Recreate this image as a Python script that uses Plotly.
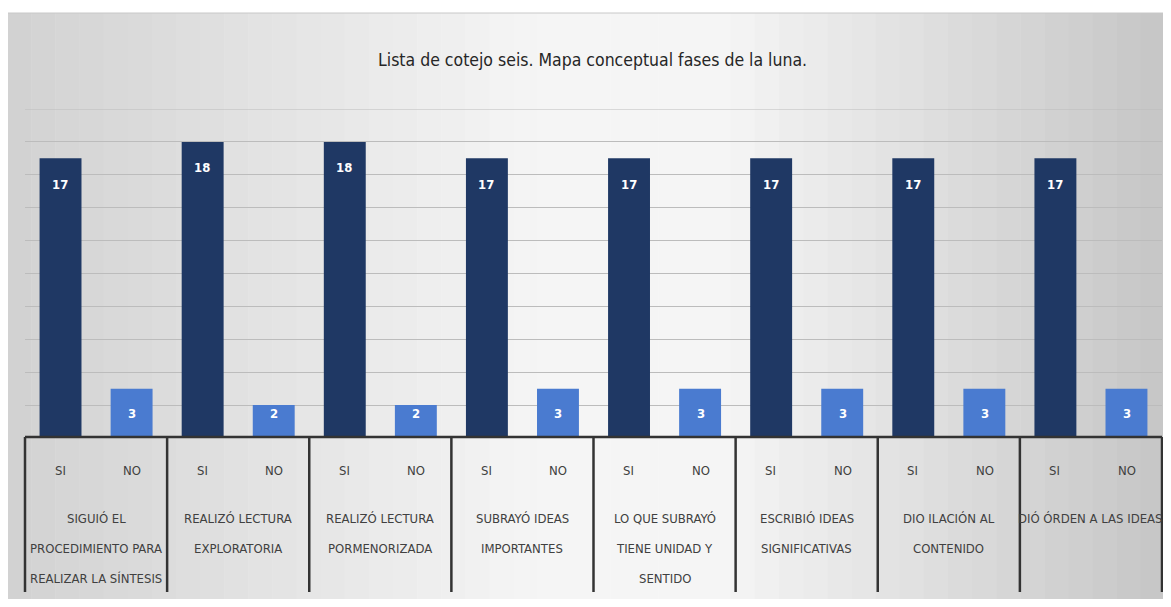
import plotly.graph_objects as go

title_text = "Lista de cotejo seis. Mapa conceptual fases de la luna."
categories = [
    "SIGUIÓ EL<br>PROCEDIMIENTO PARA<br>REALIZAR LA SÍNTESIS",
    "REALIZÓ LECTURA<br>EXPLORATORIA",
    "REALIZÓ LECTURA<br>PORMENORIZADA",
    "SUBRAYÓ IDEAS<br>IMPORTANTES",
    "LO QUE SUBRAYÓ<br>TIENE UNIDAD Y<br>SENTIDO",
    "ESCRIBIÓ IDEAS<br>SIGNIFICATIVAS",
    "DIO ILACIÓN AL<br>CONTENIDO",
    "DIÓ ÓRDEN A LAS IDEAS",
]
series_names = ["SI", "NO"]
si_values = [17, 18, 18, 17, 17, 17, 17, 17]
no_values = [3, 2, 2, 3, 3, 3, 3, 3]
y_max = 20
y_step = 2

# page body margin offset (8px) compensation
OX, OY = 8, 8
W, H = 1171 - OX, 607 - 2 * OY
L, T = 25 - OX, 109 - OY
R = W - (1162 - OX)
B = H - (438 - OY)
PW, PH = W - L - R, H - T - B


def px(xp):
    return (xp - OX - L) / PW


def py(yp):
    return (438 - yp) / PH


FONT = "DejaVu Sans Condensed, Liberation Sans, Arial, sans-serif"
SI_COLOR = "#1F3864"
NO_COLOR = "#4A7BD0"
TEXT_COLOR = "#404040"
GRID = "#bcbcbc"

fig = go.Figure()
fig.add_trace(go.Bar(name=series_names[0], x=categories, y=si_values,
                     marker_color=SI_COLOR, marker_line_width=0))
fig.add_trace(go.Bar(name=series_names[1], x=categories, y=no_values,
                     marker_color=NO_COLOR, marker_line_width=0))

shapes = []
# gradient-ish background
n = 48
x0p, x1p = 7, 1165
for i in range(n):
    t = (i + 0.5) / n
    if t < 0.45:
        v = 210 + (245 - 210) * (t / 0.45)
    elif t < 0.62:
        v = 245
    else:
        v = 245 - (245 - 198) * ((t - 0.62) / 0.38)
    v = int(v)
    c = f"rgb({v},{v},{v})"
    xa = x0p + (x1p - x0p) * i / n
    xb = x0p + (x1p - x0p) * (i + 1) / n + 0.5
    shapes.append(dict(type="rect", xref="paper", yref="paper",
                       x0=px(xa), x1=px(xb), y0=py(600), y1=py(13),
                       fillcolor=c, line_width=0, layer="below"))
shapes.append(dict(type="line", xref="paper", yref="paper", x0=px(7), x1=px(1165),
                   y0=py(13), y1=py(13), line=dict(color="#c8c8c8", width=1), layer="below"))
# top gridline at axis maximum
shapes.append(dict(type="line", xref="paper", yref="y", x0=0, x1=1,
                   y0=y_max, y1=y_max, line=dict(color=GRID, width=1), layer="below"))
# baseline
shapes.append(dict(type="line", xref="paper", yref="paper", x0=0, x1=1,
                   y0=py(437), y1=py(437), line=dict(color="#333333", width=2.5)))
# group dividers
for k in range(len(categories) + 1):
    xd = 25 + (1162 - 25) * k / len(categories)
    shapes.append(dict(type="line", xref="paper", yref="paper", x0=px(xd), x1=px(xd),
                       y0=py(437), y1=py(592), line=dict(color="#333333", width=2.5)))

annotations = []
annotations.append(dict(text=title_text, xref="paper", yref="paper", x=px(592), y=py(60),
                        showarrow=False, font=dict(family=FONT, size=17.5, color="#262626"),
                        xanchor="center", yanchor="middle"))
off = 36
for cat, sv, nv in zip(categories, si_values, no_values):
    annotations.append(dict(text=f"<b>{sv}</b>", x=cat, y=sv, xref="x", yref="y",
                            xshift=-off, yshift=-26, showarrow=False, yanchor="middle",
                            font=dict(family=FONT, size=13, color="white")))
    annotations.append(dict(text=f"<b>{nv}</b>", x=cat, y=py(413), xref="x", yref="paper",
                            xshift=off, showarrow=False, yanchor="middle",
                            font=dict(family=FONT, size=13, color="white")))
    for nm, sh in zip(series_names, (-off, off)):
        annotations.append(dict(text=nm, x=cat, y=py(470), xref="x", yref="paper",
                                xshift=sh, showarrow=False, yanchor="middle",
                                font=dict(family=FONT, size=13, color=TEXT_COLOR)))
    for j, line in enumerate(cat.split("<br>")):
        annotations.append(dict(text=line, x=cat, y=py(518 + 30 * j), xref="x", yref="paper",
                                showarrow=False, yanchor="middle",
                                font=dict(family=FONT, size=13, color=TEXT_COLOR)))

fig.update_layout(
    width=W, height=H,
    margin=dict(l=L, r=R, t=T, b=B, pad=0),
    paper_bgcolor="white",
    plot_bgcolor="rgba(0,0,0,0)",
    barmode="group", bargap=0.0, bargroupgap=0.41,
    showlegend=False,
    shapes=shapes,
    annotations=annotations,
    xaxis=dict(range=[-0.5, len(categories) - 0.5], showticklabels=False, showgrid=False,
               zeroline=False, showline=False, ticks=""),
    yaxis=dict(range=[0, y_max], dtick=y_step, showticklabels=False, showgrid=True,
               gridcolor=GRID, gridwidth=1, zeroline=False, showline=False, ticks=""),
)

fig.write_html("out.html")
